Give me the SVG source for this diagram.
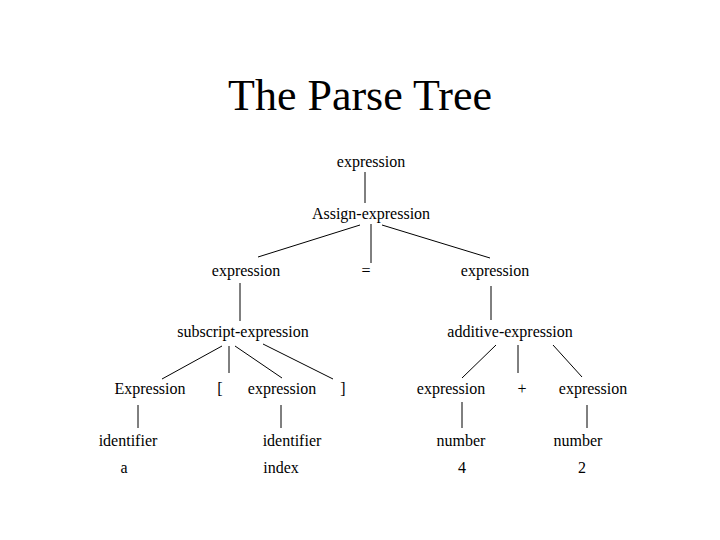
<svg xmlns="http://www.w3.org/2000/svg" width="720" height="540" viewBox="0 0 720 540">
<style>
text{font-family:"Liberation Serif","Times New Roman",serif;fill:#000;text-anchor:middle;font-size:16px}
.title{font-size:44px}
.conn line{stroke:#000;stroke-width:1}
</style>
<rect width="720" height="540" fill="#fff"/>
<text class="title" x="360" y="110">The Parse Tree</text>
<g class="conn">
<line x1="365" y1="172" x2="365" y2="203"/>
<line x1="360" y1="225" x2="258" y2="257"/>
<line x1="371" y1="224" x2="371" y2="263"/>
<line x1="382" y1="225" x2="490" y2="258"/>
<line x1="240" y1="283" x2="240" y2="321"/>
<line x1="491" y1="286" x2="491" y2="320"/>
<line x1="222" y1="346" x2="162" y2="379"/>
<line x1="229" y1="346" x2="229" y2="373"/>
<line x1="235" y1="346" x2="282" y2="378"/>
<line x1="263" y1="344" x2="333" y2="379"/>
<line x1="496" y1="345" x2="462" y2="378"/>
<line x1="518" y1="345" x2="518" y2="373"/>
<line x1="553" y1="345" x2="582" y2="377"/>
<line x1="138" y1="405" x2="138" y2="428"/>
<line x1="281" y1="405" x2="281" y2="428"/>
<line x1="462" y1="402" x2="462" y2="428"/>
<line x1="587" y1="405" x2="587" y2="428"/>
</g>
<g id="n-expr-top"><text x="371" y="167">expression</text></g>
<g id="n-assign"><text x="371" y="219">Assign-expression</text></g>
<g id="n-expr-left"><text x="246" y="276">expression</text></g>
<g id="n-eq"><text x="366" y="276">=</text></g>
<g id="n-expr-right"><text x="495" y="276">expression</text></g>
<g id="n-subscript"><text x="243" y="337">subscript-expression</text></g>
<g id="n-additive"><text x="510" y="337">additive-expression</text></g>
<g id="n-Expression"><text x="150" y="394">Expression</text></g>
<g id="n-lbracket"><text x="220" y="394">[</text></g>
<g id="n-expr-index"><text x="282" y="394">expression</text></g>
<g id="n-rbracket"><text x="343" y="394">]</text></g>
<g id="n-expr-4"><text x="451" y="394">expression</text></g>
<g id="n-plus"><text x="522" y="394">+</text></g>
<g id="n-expr-2"><text x="593" y="394">expression</text></g>
<g id="n-ident-a"><text x="128" y="446">identifier</text></g>
<g id="n-ident-index"><text x="292" y="446">identifier</text></g>
<g id="n-number-4"><text x="461" y="446">number</text></g>
<g id="n-number-2"><text x="578" y="446">number</text></g>
<g id="n-a"><text x="124" y="473">a</text></g>
<g id="n-index"><text x="281" y="473">index</text></g>
<g id="n-4"><text x="462" y="473">4</text></g>
<g id="n-2"><text x="582" y="473">2</text></g>
</svg>
